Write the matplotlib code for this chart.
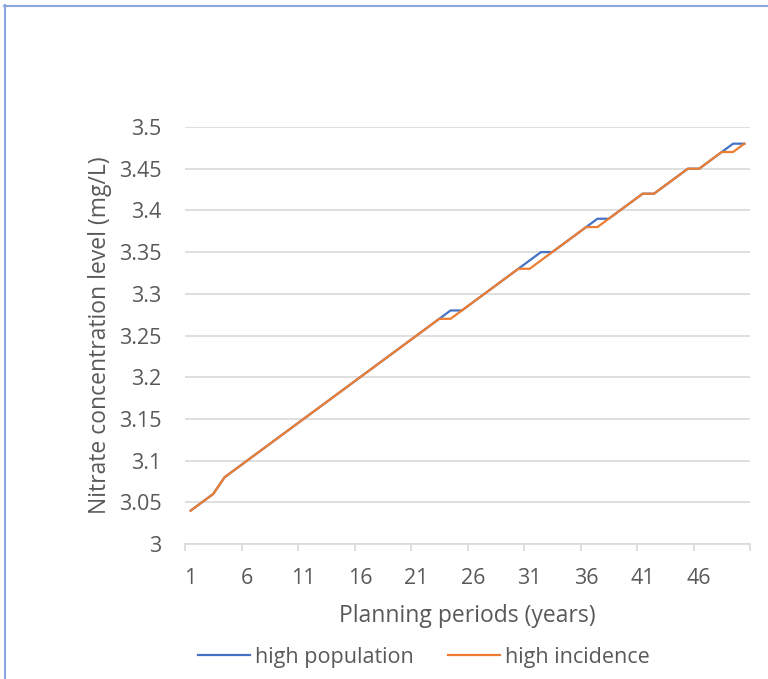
import matplotlib
matplotlib.use("Agg")
import matplotlib.pyplot as plt
from matplotlib.lines import Line2D

plt.rcParams['font.family'] = ['Open Sans', 'DejaVu Sans']

# planning periods (years)
years = list(range(1, 51))

# nitrate concentration (mg/L)
high_population = [
    3.04, 3.05, 3.06, 3.08, 3.09, 3.10, 3.11, 3.12, 3.13, 3.14,
    3.15, 3.16, 3.17, 3.18, 3.19, 3.20, 3.21, 3.22, 3.23, 3.24,
    3.25, 3.26, 3.27, 3.28, 3.28, 3.29, 3.30, 3.31, 3.32, 3.33,
    3.34, 3.35, 3.35, 3.36, 3.37, 3.38, 3.39, 3.39, 3.40, 3.41,
    3.42, 3.42, 3.43, 3.44, 3.45, 3.45, 3.46, 3.47, 3.48, 3.48,
]
high_incidence = [
    3.04, 3.05, 3.06, 3.08, 3.09, 3.10, 3.11, 3.12, 3.13, 3.14,
    3.15, 3.16, 3.17, 3.18, 3.19, 3.20, 3.21, 3.22, 3.23, 3.24,
    3.25, 3.26, 3.27, 3.27, 3.28, 3.29, 3.30, 3.31, 3.32, 3.33,
    3.33, 3.34, 3.35, 3.36, 3.37, 3.38, 3.38, 3.39, 3.40, 3.41,
    3.42, 3.42, 3.43, 3.44, 3.45, 3.45, 3.46, 3.47, 3.47, 3.48,
]

y_ticks = [3, 3.05, 3.1, 3.15, 3.2, 3.25, 3.3, 3.35, 3.4, 3.45, 3.5]
x_labels = [1, 6, 11, 16, 21, 26, 31, 36, 41, 46]

text_color = '#595959'
grid_color = '#d9d9d9'

fig = plt.figure(figsize=(7.68, 6.79), dpi=100)
ax = fig.add_axes([185 / 768, 1 - 544 / 679, 565 / 768, 417 / 679])

ax.plot(years, high_population, color='#4472c4', lw=1.6, label='high population',
        solid_joinstyle='round')
ax.plot(years, high_incidence, color='#ed7d31', lw=1.6, label='high incidence',
        solid_joinstyle='round')

ax.set_xlim(0.5, 50.5)
ax.set_ylim(3, 3.5)

# y axis
ax.set_yticks(y_ticks)
ax.set_yticklabels([f"{v:g}" for v in y_ticks])
ax.grid(axis='y', color=grid_color, lw=1.2)
ax.set_axisbelow(True)
ax.tick_params(axis='y', length=0, pad=17, labelsize=15.5, labelcolor=text_color)

# x axis: labels every 5 categories, tick marks on category boundaries
ax.set_xticks(x_labels)
ax.set_xticklabels([str(v) for v in x_labels])
ax.set_xticks([b + 0.5 for b in range(0, 51, 5)], minor=True)
ax.tick_params(axis='x', which='major', length=0, pad=17, labelsize=15.5,
               labelcolor=text_color)
ax.tick_params(axis='x', which='minor', length=5, width=1.2, color=grid_color)

for side in ['left', 'right', 'top']:
    ax.spines[side].set_visible(False)
ax.spines['bottom'].set_color(grid_color)
ax.spines['bottom'].set_linewidth(1.2)

ax.set_xlabel('Planning periods (years)', fontsize=16.5, color=text_color, labelpad=11)
ax.set_ylabel('Nitrate concentration level (mg/L)', fontsize=16.5, color=text_color,
              labelpad=5)

fig.legend(loc='center', bbox_to_anchor=(424 / 768, 1 - 657 / 679), ncol=2,
           frameon=False, fontsize=15.5, labelcolor=text_color, handlelength=2.4,
           handletextpad=0.25, columnspacing=1.6)

# chart border (light blue, only top and left visible)
border = '#8aa8dd'
fig.add_artist(Line2D([4.5 / 768, 4.5 / 768], [0, 1 - 5 / 679], color=border, lw=1.5,
                      transform=fig.transFigure))
fig.add_artist(Line2D([4 / 768, 1], [1 - 5.5 / 679, 1 - 5.5 / 679], color=border, lw=1.5,
                      transform=fig.transFigure))

fig.savefig('out.png', dpi=100)
